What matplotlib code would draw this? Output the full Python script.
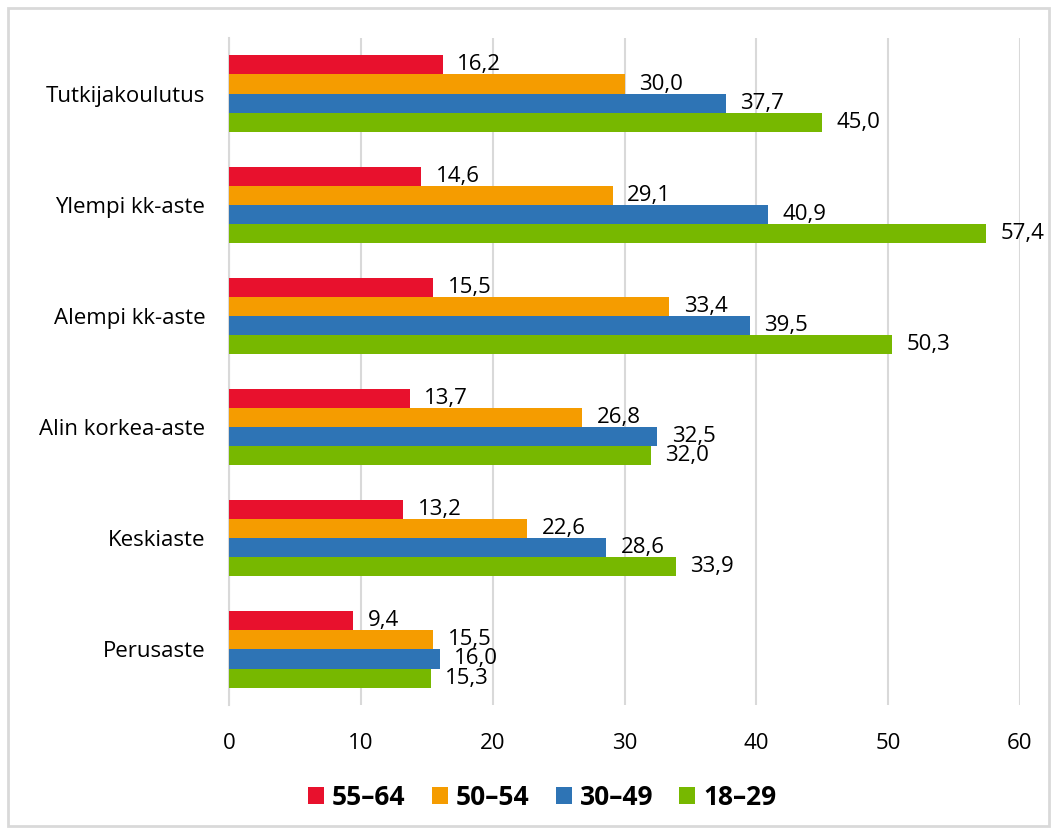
import numpy as np
import matplotlib.pyplot as plt
from matplotlib.patches import Rectangle

plt.rcParams['font.family'] = ['Open Sans', 'DejaVu Sans']

categories = ["Tutkijakoulutus", "Ylempi kk-aste", "Alempi kk-aste",
              "Alin korkea-aste", "Keskiaste", "Perusaste"]
series_names = ["55–64", "50–54", "30–49", "18–29"]
colors = ["#e8112d", "#f59c00", "#2e74b5", "#77b800"]
values = {
    "55–64": [16.2, 14.6, 15.5, 13.7, 13.2, 9.4],
    "50–54": [30.0, 29.1, 33.4, 26.8, 22.6, 15.5],
    "30–49": [37.7, 40.9, 39.5, 32.5, 28.6, 16.0],
    "18–29": [45.0, 57.4, 50.3, 32.0, 33.9, 15.3],
}

fig = plt.figure(figsize=(10.53, 8.3), dpi=100)
ax = fig.add_axes([229 / 1053, 1 - 705 / 830, (1020 - 229) / 1053, (705 - 38) / 830])

n = len(categories)
ypos = np.arange(n)[::-1]
bh = 0.172
for i, name in enumerate(series_names):
    y = ypos + (1.5 - i) * bh
    ax.barh(y, values[name], height=bh, color=colors[i], label=name, zorder=3)
    for yy, v in zip(y, values[name]):
        ax.text(v + 1.1, yy, f"{v:.1f}".replace(".", ","), va="center", ha="left",
                fontsize=16, color="black", zorder=4)

ax.set_xlim(0, 60)
ax.set_ylim(-0.5, n - 0.5)
ax.set_xticks(range(0, 61, 10))
ax.set_yticks(ypos)
ax.set_yticklabels(categories)
ax.tick_params(axis="both", length=0, labelsize=16)
ax.tick_params(axis="x", pad=20)
ax.tick_params(axis="y", pad=17)
ax.grid(axis="x", color="#d9d9d9", linewidth=1.5, zorder=0)
for s in ["top", "right", "bottom"]:
    ax.spines[s].set_visible(False)
ax.spines["left"].set_color("#d9d9d9")
ax.spines["left"].set_linewidth(1.5)

leg = fig.legend(loc="center", bbox_to_anchor=(0.515, 1 - 797 / 830), ncol=4, frameon=False,
                 prop={"weight": "bold", "size": 19}, handlelength=0.6, handleheight=0.6,
                 handletextpad=0.3, columnspacing=1.0)

fig.patches.append(Rectangle((8 / 1053, 4 / 830), 1 - 12 / 1053, 1 - 12 / 830,
                             transform=fig.transFigure, fill=False,
                             edgecolor="#d9d9d9", linewidth=2))

fig.savefig("out.png", dpi=100)
